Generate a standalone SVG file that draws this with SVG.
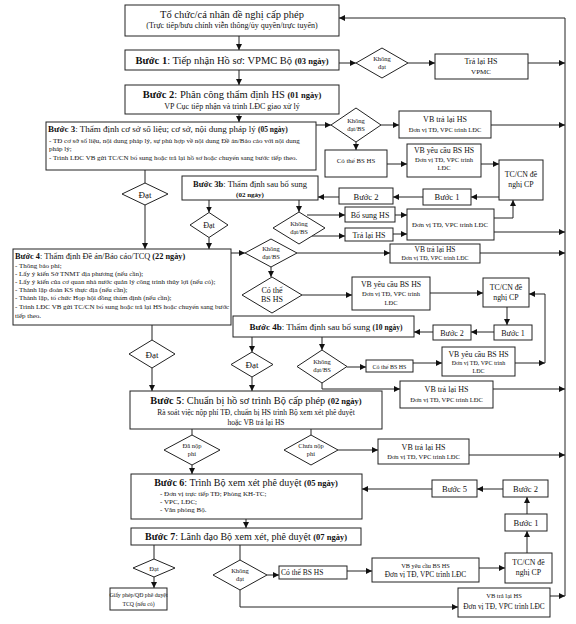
<svg xmlns="http://www.w3.org/2000/svg" width="576" height="624" viewBox="0 0 576 624">
<defs>
<marker id="ah" markerWidth="6" markerHeight="6" refX="6" refY="3" orient="auto" markerUnits="userSpaceOnUse"><path d="M0,0 L6,3 L0,6 z" fill="#111"/></marker>
<style>
.b{fill:#fff;stroke:#222;stroke-width:1}
.c{fill:none;stroke:#222;stroke-width:1}
.a{fill:none;stroke:#222;stroke-width:1;marker-end:url(#ah)}
text{font-family:"Liberation Serif","Times New Roman",serif;fill:#111}
.m{text-anchor:middle}
.bd{font-weight:bold}
</style>
</defs>
<rect width="576" height="624" fill="#fff"/>
<g id="connectors">
<path class="c" d="M565,596 V18"/>
<path class="a" d="M565,18 H339"/>
<path class="a" d="M239,36 V50"/>
<path class="a" d="M239,70 V85"/>
<path class="a" d="M239,114 V122"/>
<path class="a" d="M339,63 H356"/>
<path class="a" d="M408,63 H435"/>
<path class="a" d="M528,63 H565"/>
<path class="a" d="M316,125 H331"/>
<path class="a" d="M381,125 H399"/>
<path class="a" d="M491,125 H565"/>
<path class="a" d="M356,142 V150"/>
<path class="a" d="M387,164 H407"/>
<path class="a" d="M481,164 H499"/>
<path class="a" d="M499,197 H471"/>
<path class="a" d="M423,197 H393"/>
<path class="a" d="M339,197 H318"/>
<path class="c" d="M145,170 V183"/>
<path class="a" d="M145,205 V249"/>
<path class="a" d="M209,200 V212.5"/>
<path class="a" d="M209,237.5 V249"/>
<path class="a" d="M299,200 V212"/>
<path class="a" d="M307,215 H345"/>
<path class="a" d="M312,236 H345"/>
<path class="a" d="M395,215 H407"/>
<path class="a" d="M393,234 H407"/>
<path class="a" d="M494,218 H513 V200"/>
<path class="a" d="M494,232 H565"/>
<path class="a" d="M231,253 H245"/>
<path class="a" d="M297,253 H390"/>
<path class="a" d="M480,253 H565"/>
<path class="a" d="M271,267 V277"/>
<path class="a" d="M302,295 H352"/>
<path class="a" d="M430,293 H483"/>
<path class="a" d="M507,307 V325"/>
<path class="a" d="M494,332 H471"/>
<path class="a" d="M433,332 H414"/>
<path class="c" d="M152,325 V340"/>
<path class="a" d="M152,368 V391"/>
<path class="a" d="M252,337 V352"/>
<path class="a" d="M252,377 V391"/>
<path class="a" d="M322,337 V350"/>
<path class="a" d="M347,367 H366"/>
<path class="a" d="M413,363 H442"/>
<path class="a" d="M515,363 H545"/>
<path class="a" d="M545,363 V294 H529"/>
<path class="a" d="M322,383 V389 H400"/>
<path class="a" d="M493,389 H565"/>
<path class="c" d="M192,429 V435"/>
<path class="a" d="M192,465 V474"/>
<path class="c" d="M311,429 V435"/>
<path class="a" d="M338,450 H378"/>
<path class="a" d="M469,455 H565"/>
<path class="a" d="M432,489 H362"/>
<path class="a" d="M503,489 H477"/>
<path class="a" d="M527,514 V497"/>
<path class="a" d="M527,553 V531"/>
<path class="a" d="M246,519 V528"/>
<path class="c" d="M154,545 V559"/>
<path class="a" d="M154,577 V588"/>
<path class="c" d="M240,545 V560"/>
<path class="a" d="M267,575 H279"/>
<path class="a" d="M347,571 H372"/>
<path class="a" d="M479,568 H505"/>
<path class="a" d="M240,590 V607 H458"/>
<path class="a" d="M550,596 H565"/>
</g>
<g id="start"><rect class="b" x="125" y="5" width="214" height="31"/>
<text class="m" x="232" y="18" font-size="10.5">Tổ chức/cá nhân đề nghị cấp phép</text>
<text class="m" x="232" y="28" font-size="8">(Trực tiếp/bưu chính viễn thông/ủy quyền/trực tuyến)</text></g>
<g id="b1"><rect class="b" x="125" y="50" width="214" height="20"/>
<text class="m" x="232" y="64" font-size="10.5"><tspan class="bd">Bước 1</tspan>: Tiếp nhận Hồ sơ: VPMC Bộ <tspan class="bd" font-size="8.5">(03 ngày)</tspan></text></g>
<g id="b1_fail"><polygon class="b" points="382,48 408,63 382,78 356,63"/>
<text class="m" x="382" y="61" font-size="6.5">Không</text><text class="m" x="382" y="69" font-size="6.5">đạt</text></g>
<g id="b1_ret"><rect class="b" x="435" y="54" width="93" height="25"/>
<text class="m" x="481" y="64" font-size="8">Trả lại HS</text><text class="m" x="481" y="74" font-size="7">VPMC</text></g>
<g id="b2"><rect class="b" x="125" y="85" width="214" height="29"/>
<text class="m" x="232" y="98" font-size="10.5"><tspan class="bd">Bước 2</tspan>: Phân công thẩm định HS <tspan class="bd" font-size="8.5">(01 ngày)</tspan></text>
<text class="m" x="232" y="109" font-size="8">VP Cục tiếp nhận và trình LĐC giao xử lý</text></g>
<g id="b3"><rect class="b" x="46" y="122" width="270" height="48"/>
<text x="48" y="132" font-size="9"><tspan class="bd">Bước 3</tspan>: Thẩm định cơ sở số liệu; cơ sở, nội dung pháp lý <tspan class="bd" font-size="7.5">(05 ngày)</tspan></text>
<text x="49" y="143" font-size="7">- TĐ cơ sở số liệu, nội dung pháp lý, sự phù hợp về nội dung Đề án/Báo cáo với nội dung</text>
<text x="49" y="151" font-size="7">pháp lý;</text>
<text x="49" y="160" font-size="7">- Trình LĐC VB gửi TC/CN bổ sung hoặc trả lại hồ sơ hoặc chuyển sang bước tiếp theo.</text></g>
<g id="b3_fail"><polygon class="b" points="356,108 381,125 356,142 331,125"/>
<text class="m" x="356" y="123" font-size="6.5">Không</text><text class="m" x="356" y="131" font-size="6.5">đạt/BS</text></g>
<g id="b3_ret"><rect class="b" x="399" y="111" width="92" height="27"/>
<text class="m" x="445" y="122" font-size="8">VB trả lại HS</text><text class="m" x="445" y="132" font-size="6.5">Đơn vị TĐ, VPC trình LĐC</text></g>
<g id="b3_can"><rect class="b" x="325" y="150" width="62" height="27"/>
<text class="m" x="356" y="163" font-size="6.8">Có thể BS HS</text></g>
<g id="b3_req"><rect class="b" x="407" y="144" width="74" height="33"/>
<text class="m" x="444" y="153" font-size="7.8">VB yêu cầu BS HS</text><text class="m" x="444" y="162" font-size="6.5">Đơn vị TĐ, VPC trình</text><text class="m" x="444" y="170" font-size="6.5">LĐC</text></g>
<g id="b3_tc"><rect class="b" x="499" y="160" width="44" height="40"/>
<text class="m" x="521" y="177" font-size="7.8">TC/CN đề</text><text class="m" x="521" y="187" font-size="7.8">nghị CP</text></g>
<g id="b3_s1"><rect class="b" x="423" y="189" width="48" height="16"/>
<text class="m" x="447" y="200" font-size="8.5">Bước 1</text></g>
<g id="b3_s2"><rect class="b" x="339" y="188" width="54" height="16"/>
<text class="m" x="366" y="200" font-size="8.5">Bước 2</text></g>
<g id="b3_ok"><polygon class="b" points="145,183 168,194 145,205 122,194"/>
<text class="m" x="145" y="197.5" font-size="9">Đạt</text></g>
<g id="b3b"><rect class="b" x="182" y="176" width="136" height="24"/>
<text class="m" x="250" y="187" font-size="8.5"><tspan class="bd">Bước 3b</tspan>: Thẩm định sau bổ sung</text>
<text class="m bd" x="250" y="197" font-size="7">(02 ngày)</text></g>
<g id="b3b_ok"><polygon class="b" points="209,212.5 228,225 209,237.5 190,225"/>
<text class="m" x="209" y="228" font-size="8">Đạt</text></g>
<g id="b3b_fail"><polygon class="b" points="299,212 325,228 299,244 273,228"/>
<text class="m" x="299" y="226" font-size="6.5">Không</text><text class="m" x="299" y="234" font-size="6.5">đạt/BS</text></g>
<g id="b3b_add"><rect class="b" x="345" y="207" width="50" height="15"/>
<text class="m" x="370" y="218" font-size="8">Bổ sung HS</text></g>
<g id="b3b_ret"><rect class="b" x="345" y="228" width="48" height="13"/>
<text class="m" x="369" y="238" font-size="8">Trả lại HS</text></g>
<g id="b3b_unit"><rect class="b" x="407" y="209" width="87" height="31"/>
<text class="m" x="450" y="227" font-size="6.8">Đơn vị TĐ, VPC trình LĐC</text></g>
<g id="b4"><rect class="b" x="13" y="249" width="218" height="76"/>
<text x="15" y="259" font-size="8.3"><tspan class="bd">Bước 4</tspan>: Thẩm định Đề án/Báo cáo/TCQ <tspan class="bd">(22 ngày)</tspan></text>
<text x="15" y="268" font-size="7">- Thông báo phí;</text>
<text x="15" y="276" font-size="7">- Lấy ý kiến Sở TNMT địa phương (nếu cần);</text>
<text x="15" y="284" font-size="7">- Lấy ý kiến của cơ quan nhà nước quản lý công trình thủy lợi (nếu có);</text>
<text x="15" y="292" font-size="7">- Thành lập đoàn KS thực địa (nếu cần);</text>
<text x="15" y="300" font-size="7">- Thành lập, tổ chức Họp hội đồng thẩm định (nếu cần);</text>
<text x="15" y="309" font-size="7">- Trình LĐC VB gửi TC/CN bổ sung hoặc trả lại HS hoặc chuyển sang bước</text>
<text x="15" y="318" font-size="7">tiếp theo.</text></g>
<g id="b4_fail"><polygon class="b" points="271,239 297,253 271,267 245,253"/>
<text class="m" x="271" y="251" font-size="6.5">Không</text><text class="m" x="271" y="259" font-size="6.5">đạt/BS</text></g>
<g id="b4_ret"><rect class="b" x="390" y="244" width="90" height="19"/>
<text class="m" x="435" y="252" font-size="7.5">VB trả lại HS</text><text class="m" x="435" y="260" font-size="6">Đơn vị TĐ, VPC trình LĐC</text></g>
<g id="b4_can"><polygon class="b" points="272,277 302,295 272,313 242,295"/>
<text class="m" x="272" y="293" font-size="8">Có thể</text><text class="m" x="272" y="302" font-size="8">BS HS</text></g>
<g id="b4_req"><rect class="b" x="352" y="277" width="78" height="33"/>
<text class="m" x="391" y="287" font-size="7.8">VB yêu cầu BS HS</text><text class="m" x="391" y="296" font-size="6.5">Đơn vị TĐ, VPC trình</text><text class="m" x="391" y="305" font-size="6.5">LĐC</text></g>
<g id="b4_tc"><rect class="b" x="483" y="278" width="46" height="29"/>
<text class="m" x="506" y="290" font-size="7.8">TC/CN đề</text><text class="m" x="506" y="300" font-size="7.8">nghị CP</text></g>
<g id="b4_s1"><rect class="b" x="494" y="325" width="38" height="15"/>
<text class="m" x="513" y="336" font-size="8">Bước 1</text></g>
<g id="b4_s2"><rect class="b" x="433" y="325" width="38" height="15"/>
<text class="m" x="452" y="336" font-size="8">Bước 2</text></g>
<g id="b4b"><rect class="b" x="233" y="316" width="181" height="21"/>
<text class="m" x="326" y="330" font-size="9"><tspan class="bd">Bước 4b</tspan>: Thẩm định sau bổ sung <tspan class="bd" font-size="7.5">(10 ngày)</tspan></text></g>
<g id="b4_ok"><polygon class="b" points="152,340 175,354 152,368 129,354"/>
<text class="m" x="152" y="357.5" font-size="9">Đạt</text></g>
<g id="b4b_ok"><polygon class="b" points="252,352 273,364.5 252,377 231,364.5"/>
<text class="m" x="252" y="368" font-size="9">Đạt</text></g>
<g id="b4b_fail"><polygon class="b" points="322,350 347,366.5 322,383 297,366.5"/>
<text class="m" x="322" y="364" font-size="6.5">Không</text><text class="m" x="322" y="372" font-size="6.5">đạt/BS</text></g>
<g id="b4b_can"><rect class="b" x="366" y="360" width="47" height="12"/>
<text class="m" x="389.5" y="369" font-size="6">Có thể BS HS</text></g>
<g id="b4b_req"><rect class="b" x="442" y="347" width="73" height="29"/>
<text class="m" x="478.5" y="357" font-size="7.8">VB yêu cầu BS HS</text><text class="m" x="478.5" y="365" font-size="6">Đơn vị TĐ, VPC trình</text><text class="m" x="478.5" y="373" font-size="6">LĐC</text></g>
<g id="b4b_ret"><rect class="b" x="400" y="381" width="93" height="27"/>
<text class="m" x="446.5" y="392" font-size="8">VB trả lại HS</text><text class="m" x="446.5" y="402" font-size="6.5">Đơn vị TĐ, VPC trình LĐC</text></g>
<g id="b5"><rect class="b" x="130" y="391" width="252" height="38"/>
<text class="m" x="256" y="404" font-size="10.3"><tspan class="bd">Bước 5</tspan>: Chuẩn bị hồ sơ trình Bộ cấp phép <tspan class="bd" font-size="8.5">(02 ngày)</tspan></text>
<text class="m" x="256" y="415" font-size="7.5">Rà soát việc nộp phí TĐ, chuẩn bị HS trình Bộ xem xét phê duyệt</text>
<text class="m" x="256" y="425" font-size="7.5">hoặc VB trả lại HS</text></g>
<g id="b5_paid"><polygon class="b" points="192,435 220,450 192,465 164,450"/>
<text class="m" x="192" y="448" font-size="6.5">Đã nộp</text><text class="m" x="192" y="456" font-size="6.5">phí</text></g>
<g id="b5_unpaid"><polygon class="b" points="311,435 338,450 311,465 284,450"/>
<text class="m" x="311" y="448" font-size="6.5">Chưa nộp</text><text class="m" x="311" y="456" font-size="6.5">phí</text></g>
<g id="b5_ret"><rect class="b" x="378" y="439" width="91" height="25"/>
<text class="m" x="423.5" y="450" font-size="8">VB trả lại HS</text><text class="m" x="423.5" y="459" font-size="6.5">Đơn vị TĐ, VPC trình LĐC</text></g>
<g id="b6"><rect class="b" x="131" y="474" width="231" height="45"/>
<text class="m" x="246" y="486" font-size="10"><tspan class="bd">Bước 6</tspan>: Trình Bộ xem xét phê duyệt <tspan class="bd" font-size="8.5">(05 ngày)</tspan></text>
<text x="160" y="496" font-size="7">- Đơn vị trực tiếp TĐ; Phòng KH-TC;</text>
<text x="160" y="504" font-size="7">- VPC, LĐC;</text>
<text x="160" y="512" font-size="7">- Văn phòng Bộ.</text></g>
<g id="b6_s5"><rect class="b" x="432" y="480" width="45" height="17"/>
<text class="m" x="454.5" y="492" font-size="8.5">Bước 5</text></g>
<g id="b6_s2"><rect class="b" x="503" y="480" width="45" height="17"/>
<text class="m" x="525.5" y="492" font-size="8.5">Bước 2</text></g>
<g id="b6_s1"><rect class="b" x="505" y="514" width="42" height="17"/>
<text class="m" x="526" y="526" font-size="8.5">Bước 1</text></g>
<g id="b6_tc"><rect class="b" x="505" y="553" width="47" height="30"/>
<text class="m" x="528.5" y="565" font-size="7.8">TC/CN đề</text><text class="m" x="528.5" y="575" font-size="7.8">nghị CP</text></g>
<g id="b7"><rect class="b" x="131" y="528" width="230" height="17"/>
<text class="m" x="246" y="540" font-size="10"><tspan class="bd">Bước 7</tspan>: Lãnh đạo Bộ xem xét, phê duyệt <tspan class="bd" font-size="8.5">(07 ngày)</tspan></text></g>
<g id="b7_ok"><polygon class="b" points="154,559 175,568 154,577 133,568"/>
<text class="m" x="154" y="570.5" font-size="6.5">Đạt</text></g>
<g id="b7_permit"><rect class="b" x="110" y="588" width="57" height="22"/>
<text class="m" x="138.5" y="597" font-size="5.8">Giấy phép/QĐ phê duyệt</text><text class="m" x="138.5" y="606" font-size="5.8">TCQ (nếu có)</text></g>
<g id="b7_fail"><polygon class="b" points="240,560 267,575 240,590 213,575"/>
<text class="m" x="240" y="573" font-size="6.5">Không</text><text class="m" x="240" y="581" font-size="6.5">đạt</text></g>
<g id="b7_can"><rect class="b" x="279" y="566" width="68" height="13"/>
<text x="281" y="575" font-size="7.5">Có thể BS HS</text></g>
<g id="b7_req"><rect class="b" x="372" y="558" width="107" height="24"/>
<text class="m" x="425.5" y="568" font-size="6.3">VB yêu cầu BS HS</text><text class="m" x="425.5" y="577" font-size="7.3">Đơn vị TĐ, VPC trình LĐC</text></g>
<g id="b7_ret"><rect class="b" x="458" y="588" width="92" height="29"/>
<text class="m" x="504" y="598" font-size="6.5">VB trả lại HS</text><text class="m" x="504" y="609" font-size="7.3">Đơn vị TĐ, VPC trình LĐC</text></g>
</svg>
